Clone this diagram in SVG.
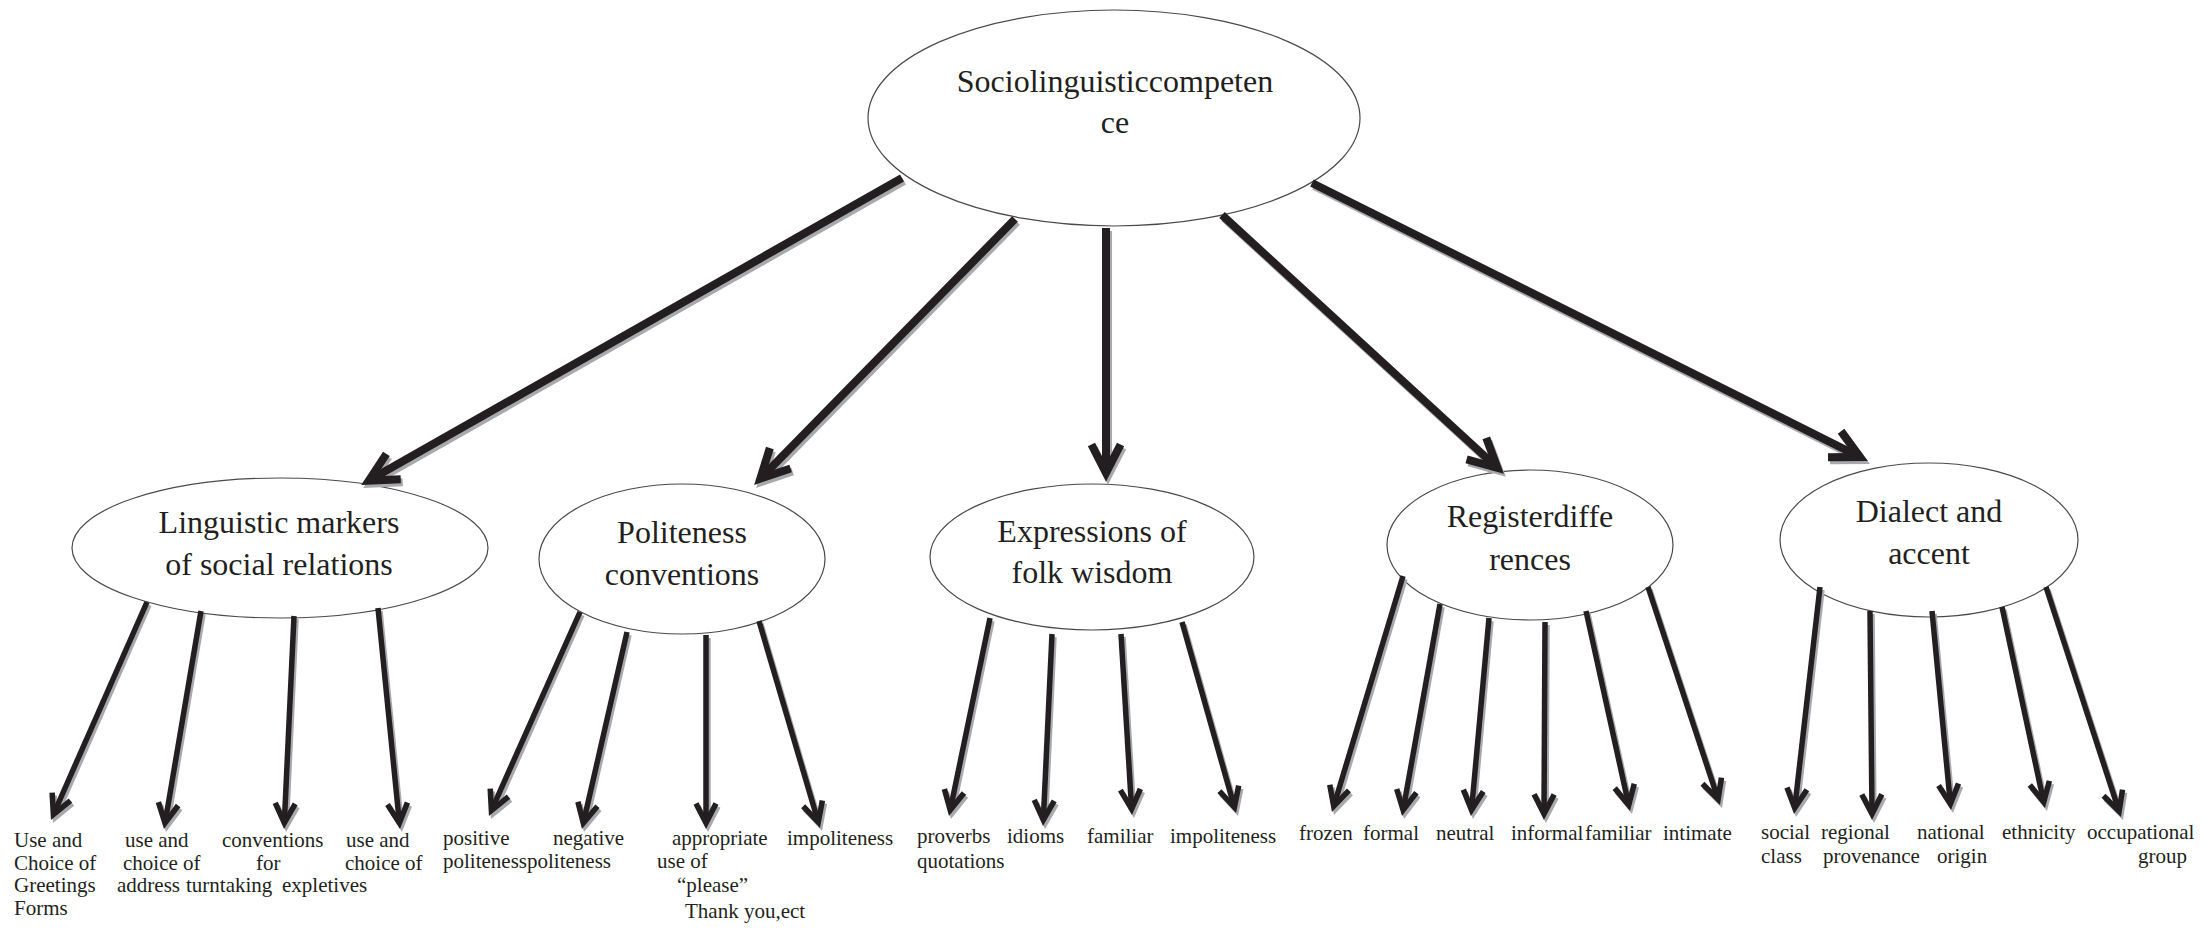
<svg xmlns="http://www.w3.org/2000/svg" xmlns:xlink="http://www.w3.org/1999/xlink" width="2203" height="928" viewBox="0 0 2203 928">
<style>
.node ellipse{fill:#fff;stroke:#4a4a4a;stroke-width:1.2}
.nt{font-family:"Liberation Serif","Times New Roman",serif;font-size:32px;fill:#231f20;text-anchor:middle}
.lbl{font-family:"Liberation Serif","Times New Roman",serif;font-size:21px;fill:#231f20}
.main{stroke-width:8;fill:none}
.child{stroke-width:5.5;fill:none}
.dark{stroke:#231f20;marker-end:url(#md)}
.shadow{stroke:#a7a9ac;marker-end:url(#mg)}
</style>
<defs>
<marker id="md" markerUnits="strokeWidth" orient="auto" overflow="visible" markerWidth="6" markerHeight="6" refX="0" refY="0">
<polygon points="1.1,0 -3.33,-2.27 -3.79,-1.37 -1.1,0 -3.79,1.37 -3.33,2.27" fill="#231f20" stroke="none"/>
</marker>
<marker id="mg" markerUnits="strokeWidth" orient="auto" overflow="visible" markerWidth="6" markerHeight="6" refX="0" refY="0">
<polygon points="1.1,0 -3.33,-2.27 -3.79,-1.37 -1.1,0 -3.79,1.37 -3.33,2.27" fill="#a7a9ac" stroke="none"/>
</marker>
</defs>
<rect width="2203" height="928" fill="#fff"/>

<g id="node-root" class="node">
<ellipse cx="1114" cy="118" rx="246" ry="108"/>
<text class="nt" x="1115" y="92">Sociolinguisticcompeten</text>
<text class="nt" x="1115" y="133">ce</text>
</g>
<g id="node-linguistic" class="node">
<ellipse cx="280" cy="548" rx="208" ry="70"/>
<text class="nt" x="279" y="533">Linguistic markers</text>
<text class="nt" x="279" y="575">of social relations</text>
</g>
<g id="node-politeness" class="node">
<ellipse cx="682" cy="559" rx="143" ry="75"/>
<text class="nt" x="682" y="543">Politeness</text>
<text class="nt" x="682" y="585">conventions</text>
</g>
<g id="node-folk" class="node">
<ellipse cx="1092" cy="557" rx="162" ry="73"/>
<text class="nt" x="1092" y="542">Expressions of</text>
<text class="nt" x="1092" y="583">folk wisdom</text>
</g>
<g id="node-register" class="node">
<ellipse cx="1530" cy="545" rx="143" ry="75"/>
<text class="nt" x="1530" y="527">Registerdiffe</text>
<text class="nt" x="1530" y="570">rences</text>
</g>
<g id="node-dialect" class="node">
<ellipse cx="1929" cy="540" rx="149" ry="77"/>
<text class="nt" x="1929" y="522">Dialect and</text>
<text class="nt" x="1929" y="564">accent</text>
</g>

<g id="connectors">
<use xlink:href="#arrows" href="#arrows" class="shadow" transform="translate(2,3)"/>
<g class="dark">
<g id="arrows">
<path class="main" d="M902,178 L368.8,480.6"/>
<path class="main" d="M1015,219 L760.3,478.6"/>
<path class="main" d="M1106,228 L1106,473"/>
<path class="main" d="M1222,215 L1497.4,467.9"/>
<path class="main" d="M1312,183 L1860,457"/>
<path class="child" d="M147,602 L53.4,814.5"/>
<path class="child" d="M201,611 L165,823.1"/>
<path class="child" d="M294,616 L284.3,823"/>
<path class="child" d="M378,608 L399.4,823"/>
<path class="child" d="M580,612 L491.4,810.5"/>
<path class="child" d="M627,632 L583.3,823.1"/>
<path class="child" d="M706,635 L706,823"/>
<path class="child" d="M759,621 L818.3,822.2"/>
<path class="child" d="M990,618 L950.2,810.1"/>
<path class="child" d="M1052,634 L1043.3,820"/>
<path class="child" d="M1121,634 L1131.6,809"/>
<path class="child" d="M1182,622 L1234.4,807.2"/>
<path class="child" d="M1403,576 L1333.7,806.3"/>
<path class="child" d="M1440,604 L1403.1,810.1"/>
<path class="child" d="M1489,618 L1471.5,810"/>
<path class="child" d="M1545,622 L1544,814"/>
<path class="child" d="M1586,611 L1628.7,805.1"/>
<path class="child" d="M1648,587 L1718.1,799.3"/>
<path class="child" d="M1820,587 L1794.7,808"/>
<path class="child" d="M1870,611 L1872,814"/>
<path class="child" d="M1932,611 L1950.4,804"/>
<path class="child" d="M2002,607 L2043.7,802.1"/>
<path class="child" d="M2046,587 L2119.1,811.3"/>
</g>
</g>
</g>

<g id="labels">
<text class="lbl" x="14" y="847">Use and</text>
<text class="lbl" x="14" y="870">Choice of</text>
<text class="lbl" x="14" y="892">Greetings</text>
<text class="lbl" x="14" y="915">Forms</text>
<text class="lbl" x="125" y="847">use and</text>
<text class="lbl" x="123" y="870">choice of</text>
<text class="lbl" x="117" y="892">address</text>
<text class="lbl" x="222" y="847">conventions</text>
<text class="lbl" x="256" y="870">for</text>
<text class="lbl" x="186" y="892">turntaking</text>
<text class="lbl" x="346" y="847">use and</text>
<text class="lbl" x="345" y="870">choice of</text>
<text class="lbl" x="282" y="892">expletives</text>
<text class="lbl" x="443" y="845">positive</text>
<text class="lbl" x="553" y="845">negative</text>
<text class="lbl" x="443" y="868">politeness</text>
<text class="lbl" x="527" y="868">politeness</text>
<text class="lbl" x="672" y="845">appropriate</text>
<text class="lbl" x="657" y="868">use of</text>
<text class="lbl" x="677" y="892">“please”</text>
<text class="lbl" x="685" y="918">Thank you,ect</text>
<text class="lbl" x="787" y="845">impoliteness</text>
<text class="lbl" x="917" y="843">proverbs</text>
<text class="lbl" x="917" y="868">quotations</text>
<text class="lbl" x="1007" y="843">idioms</text>
<text class="lbl" x="1087" y="843">familiar</text>
<text class="lbl" x="1170" y="843">impoliteness</text>
<text class="lbl" x="1299" y="840">frozen</text>
<text class="lbl" x="1363" y="840">formal</text>
<text class="lbl" x="1436" y="840">neutral</text>
<text class="lbl" x="1511" y="840">informal</text>
<text class="lbl" x="1585" y="840">familiar</text>
<text class="lbl" x="1663" y="840">intimate</text>
<text class="lbl" x="1761" y="839">social</text>
<text class="lbl" x="1761" y="863">class</text>
<text class="lbl" x="1821" y="839">regional</text>
<text class="lbl" x="1823" y="863">provenance</text>
<text class="lbl" x="1917" y="839">national</text>
<text class="lbl" x="1937" y="863">origin</text>
<text class="lbl" x="2002" y="839">ethnicity</text>
<text class="lbl" x="2087" y="839">occupational</text>
<text class="lbl" x="2138" y="863">group</text>
</g>
</svg>
